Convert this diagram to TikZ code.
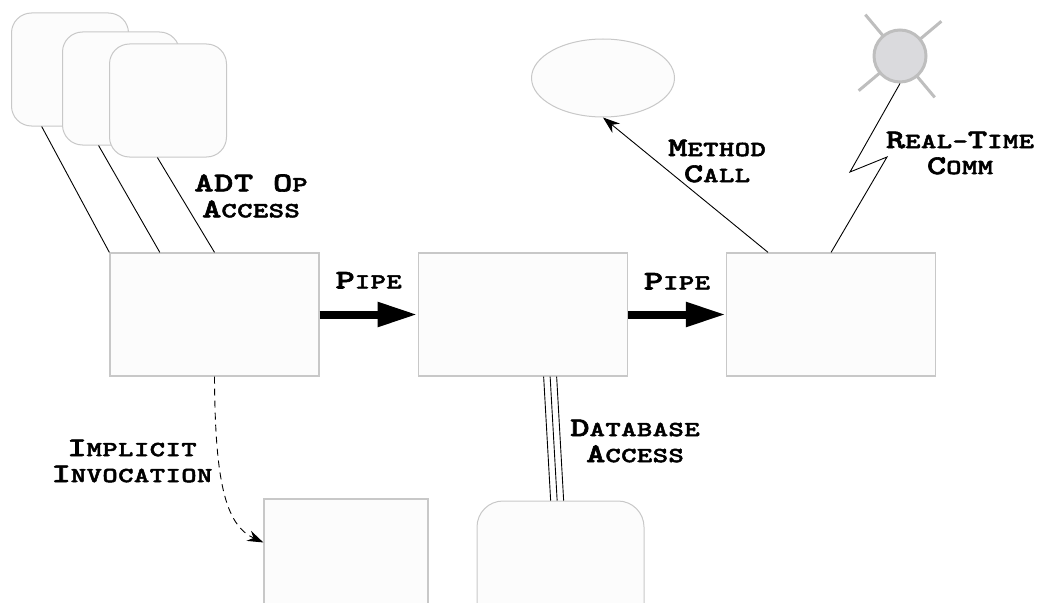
\documentclass[tikz,border=0pt]{standalone}
\usepackage{fontspec}
\newfontfamily\lblfont{lmmonolt10-bold.otf}[FakeStretch=1.36,FakeBold=2.2,LetterSpace=2]
\usetikzlibrary{arrows.meta,positioning,calc,shapes.geometric}
\definecolor{BoxLine}{RGB}{200,200,200}
\definecolor{BoxFill}{RGB}{252,252,252}
\definecolor{SunFill}{RGB}{218,218,221}
\definecolor{SunLine}{RGB}{190,190,190}
\newcommand{\capbig}[1]{{\fontsize{27}{26}\selectfont #1}}
\newcommand{\capsmall}[1]{{\fontsize{21.5}{26}\selectfont #1}}

\begin{document}
\begin{tikzpicture}[x=1pt,y=-1pt,node distance=98pt,
    filter/.style={draw=BoxLine,line width=1.3pt,fill=BoxFill,minimum width=209pt,minimum height=123pt,inner sep=0pt},
    adtbox/.style={draw=BoxLine,line width=1pt,fill=BoxFill,rounded corners=20pt,minimum width=117pt,minimum height=113pt,inner sep=0pt},
    lbl/.style={font=\lblfont\fontsize{27}{26}\selectfont,align=center,inner sep=0pt},
    conn/.style={line width=0.9pt},
    pipe/.style={line width=8pt,-{Triangle[length=40pt,width=23pt]}}]
    \useasboundingbox (0,0) rectangle (1043,602);
    \node[adtbox] (adt1) at (70,69.5) {};
    \node[adtbox] (adt2) at (121,88.5) {};
    \node[adtbox] (adt3) at (168,100.5) {};
    \node[filter] (flA) at (214.5,314.5) {};
    \node[filter,right=of flA] (flB) {};
    \node[filter,right=of flB] (flC) {};
    \node[filter,minimum width=164pt,minimum height=164pt] (flD) at (346,581) {};
    \node[draw=BoxLine,line width=1pt,fill=BoxFill,rounded corners=26pt,minimum width=167pt,minimum height=150pt] (db) at (560.5,576) {};
    \node[draw=BoxLine,line width=1pt,fill=BoxFill,ellipse,minimum width=143pt,minimum height=78pt,inner sep=0pt] (obj) at (603,78) {};
    \coordinate (sunc) at (900,56);
    \foreach \a in {40,130,220,310}
        \draw[SunLine,line width=3pt] (sunc) -- +(\a:54pt);
    \node[circle,draw=SunLine,fill=SunFill,line width=3pt,minimum size=52pt,inner sep=0pt] (sun) at (sunc) {};

    \draw[conn] ($(adt1.south west)!0.26!(adt1.south east)$) -- (flA.north west);
    \draw[conn] ($(adt2.south west)!0.31!(adt2.south east)$) -- ($(flA.north west)!0.24!(flA.north east)$);
    \draw[conn] ($(adt3.south west)!0.41!(adt3.south east)$) -- (flA.north);
    \node[lbl] (lblAdt) at (251,196) {\capbig{ADT O}\capsmall{P}\\\capbig{A}\capsmall{CCESS}};

    \draw[pipe] (flA) -- node[lbl,above=22pt] (lblPipeA) {\capbig{P}\capsmall{IPE}} (flB);
    \draw[pipe] (flB) -- node[lbl,above=21pt] (lblPipeB) {\capbig{P}\capsmall{IPE}} (flC);

    \draw[conn,dash pattern=on 7pt off 5pt,-{Stealth[length=16pt,width=11pt]}] (flA.south) .. controls (215,480) and (225,525) .. (flD.155);
    \node[lbl] (lblImpl) at (132,461) {\capbig{I}\capsmall{MPLICIT}\\\capbig{I}\capsmall{NVOCATION}};

    \coordinate (dbbot) at ($(flB.south west)!0.63!(flB.south east)$);
    \coordinate (dbtop) at ($(db.north west)!0.48!(db.north east)$);
    \foreach \s in {-6.5,0,6.5}
        \draw[conn] ([xshift=\s pt]dbbot) -- ([xshift=\s pt]dbtop);
    \node[lbl] (lblDb) at (635,441) {\capbig{D}\capsmall{ATABASE}\\\capbig{A}\capsmall{CCESS}};

    \draw[conn,-{Stealth[length=17pt,width=12pt]}] ($(flC.north west)!0.2!(flC.north east)$) -- (obj.south);
    \node[lbl] (lblCall) at (717,161) {\capbig{M}\capsmall{ETHOD}\\\capbig{C}\capsmall{ALL}};

    \coordinate (zz1) at (887,157);
    \coordinate (zz2) at (850,172);
    \draw[conn] (flC.north) -- (zz1) -- (zz2) -- (sun.south);
    \node[lbl] (lblRt) at (960,153) {\capbig{R}\capsmall{EAL-}\capbig{T}\capsmall{IME}\\\capbig{C}\capsmall{OMM}};
\end{tikzpicture}
\end{document}
